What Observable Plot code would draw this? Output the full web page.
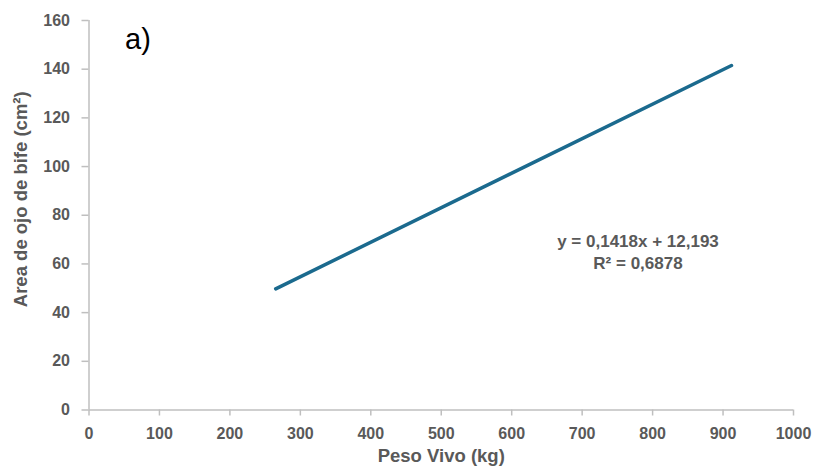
<!DOCTYPE html>
<html>
<head>
<meta charset="utf-8">
<script src="https://cdn.jsdelivr.net/npm/d3@7"></script>
<script src="https://cdn.jsdelivr.net/npm/@observablehq/plot@0.6"></script>
<style>
  html, body { margin: 0; padding: 0; background: #ffffff; }
  #chart svg { display: block; }
</style>
</head>
<body>
<div id="chart"></div>
<script>
// Linear fit of rib-eye area against live weight
const slope = 0.1418;
const intercept = 12.193;
const rSquared = 0.6878;
// Live-weight range covered by the fitted line (kg)
const weightRange = [265, 912];

// Axis ticks
const xTicks = [0, 100, 200, 300, 400, 500, 600, 700, 800, 900, 1000];
const yTicks = [0, 20, 40, 60, 80, 100, 120, 140, 160];

const panelLabel = "a)";
const xLabel = "Peso Vivo (kg)";
const yLabel = "Area de ojo de bife (cm²)";

const fitLine = weightRange.map(w => ({x: w, y: slope * w + intercept}));

const comma = v => String(v).replace(".", ",");
const eqLines = [
  `y = ${comma(slope)}x + ${comma(intercept)}`,
  `R² = ${comma(rSquared)}`
];

const gray = "#595959";
const axisGray = "#bfbfbf";
const font = "'Liberation Sans', Arial, sans-serif";

const chart = Plot.plot({
  width: 815,
  height: 469,
  marginLeft: 88.5,
  marginRight: 22,
  marginTop: 20,
  marginBottom: 59.5,
  style: {fontFamily: font, background: "#ffffff"},
  x: {domain: [0, 1000]},
  y: {domain: [0, 160]},
  marks: [
    Plot.axisX({
      ticks: xTicks, tickSize: 6, tickPadding: 12, label: null,
      tickFormat: d => String(d),
      stroke: axisGray, fill: gray, strokeWidth: 1.5,
      fontSize: 16, fontWeight: "bold"
    }),
    Plot.axisY({
      ticks: yTicks, tickSize: 7, tickPadding: 12, label: null,
      tickFormat: d => String(d),
      stroke: axisGray, fill: gray, strokeWidth: 1.5,
      fontSize: 16, fontWeight: "bold"
    }),
    Plot.ruleY([0], {stroke: axisGray, strokeWidth: 1.5}),
    Plot.ruleX([0], {stroke: axisGray, strokeWidth: 1.5}),
    Plot.line(fitLine, {
      x: "x", y: "y", stroke: "#1b6a8e", strokeWidth: 3.5, strokeLinecap: "round"
    }),
    Plot.text([xLabel], {
      frameAnchor: "bottom", lineAnchor: "middle", dy: 46, fill: gray,
      fontSize: 18.5, fontWeight: "bold"
    }),
    Plot.text([yLabel], {
      frameAnchor: "left", lineAnchor: "middle", dx: -68, dy: -16, rotate: -90,
      textAnchor: "middle", fill: gray,
      fontSize: 18.5, fontWeight: "bold"
    }),
    Plot.text([panelLabel], {
      frameAnchor: "top-left", dx: 36, dy: 8, fill: "#000000",
      fontSize: 29, textAnchor: "start"
    }),
    Plot.text([eqLines.join("\n")], {
      frameAnchor: "top-left", dx: 549, dy: 211, textAnchor: "middle", fill: gray,
      fontSize: 17, fontWeight: "bold", lineHeight: 1.3
    })
  ]
});

document.getElementById("chart").appendChild(chart);
</script>
</body>
</html>
